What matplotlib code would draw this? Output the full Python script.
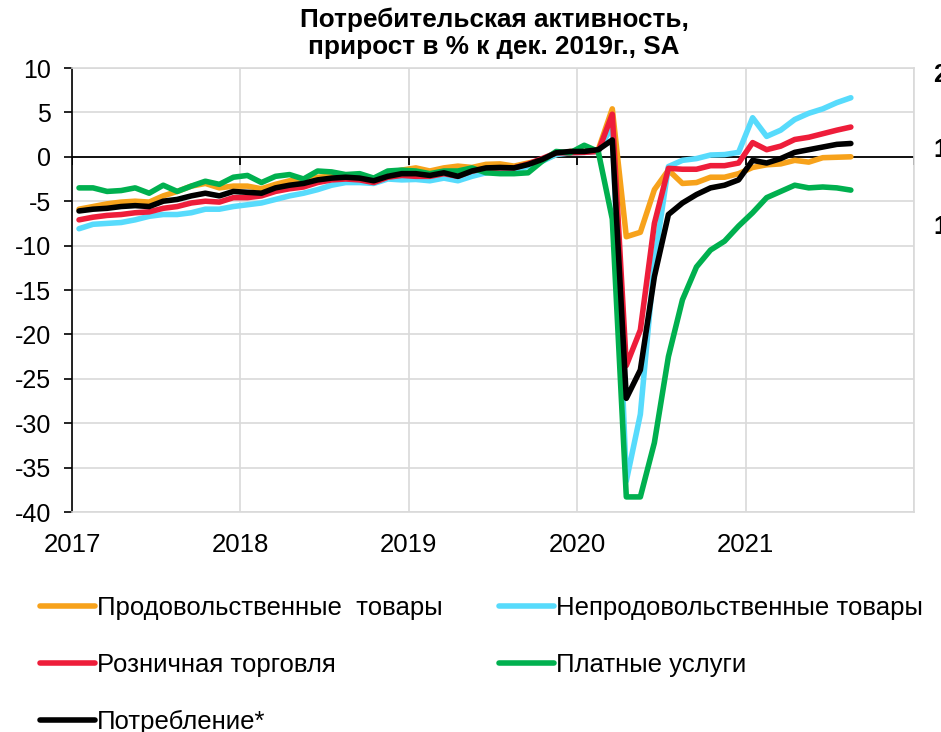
import numpy as np
import matplotlib
matplotlib.use("Agg")
import matplotlib.pyplot as plt

plt.rcParams['font.family'] = ['Liberation Sans', 'DejaVu Sans']
plt.rcParams['axes.unicode_minus'] = False

# месячные данные, янв. 2017 - авг. 2021
food = [-5.9, -5.6, -5.3, -5.1, -5.0, -5.1, -4.4, -3.9, -3.3, -3.0, -3.5, -3.3,
        -3.3, -3.6, -3.1, -2.7, -2.6, -2.3, -2.2, -2.2, -2.3, -2.6, -1.8, -1.5,
        -1.25, -1.6, -1.25, -1.05, -1.2, -0.85, -0.8, -1.05, -0.7, -0.4, 0.25, 0.6,
        0.6, 0.8, 5.4, -9.0, -8.5, -3.7, -1.5, -3.0, -2.9, -2.3, -2.3, -1.9,
        -1.2, -0.9, -0.8, -0.4, -0.6, -0.1, -0.05, 0.0]
nonfood = [-8.1, -7.6, -7.5, -7.4, -7.1, -6.7, -6.5, -6.5, -6.3, -5.9, -5.9, -5.6,
           -5.4, -5.2, -4.8, -4.4, -4.1, -3.7, -3.2, -2.9, -2.9, -3.0, -2.5, -2.6,
           -2.55, -2.7, -2.4, -2.7, -2.2, -1.8, -1.6, -1.7, -1.05, -0.5, 0.25, 0.45,
           0.5, 0.6, 3.5, -36.5, -29.0, -11.8, -1.1, -0.4, -0.2, 0.2, 0.25, 0.5,
           4.4, 2.3, 3.0, 4.2, 4.9, 5.4, 6.1, 6.65]
retail = [-7.1, -6.8, -6.6, -6.5, -6.3, -6.2, -5.8, -5.6, -5.2, -5.0, -5.1, -4.6,
          -4.6, -4.4, -3.9, -3.6, -3.4, -2.9, -2.6, -2.5, -2.6, -2.9, -2.3, -2.1,
          -2.2, -2.2, -1.9, -2.2, -1.6, -1.35, -1.25, -1.25, -0.8, -0.2, 0.45, 0.45,
          0.5, 0.6, 4.8, -23.5, -19.5, -7.5, -1.3, -1.4, -1.4, -1.0, -1.0, -0.7,
          1.6, 0.8, 1.2, 1.95, 2.2, 2.6, 3.0, 3.35]
services = [-3.5, -3.5, -3.9, -3.8, -3.5, -4.1, -3.2, -3.9, -3.3, -2.75, -3.1, -2.3,
            -2.1, -2.9, -2.2, -2.0, -2.5, -1.6, -1.7, -2.0, -1.9, -2.4, -1.6, -1.5,
            -1.6, -1.9, -1.6, -1.6, -1.25, -1.8, -1.9, -1.9, -1.8, -0.5, 0.6, 0.45,
            1.3, 0.6, -7.0, -38.3, -38.3, -32.2, -22.5, -16.1, -12.4, -10.5, -9.5, -7.8,
            -6.3, -4.6, -3.9, -3.2, -3.5, -3.4, -3.5, -3.75]
consumption = [-6.1, -5.9, -5.8, -5.6, -5.5, -5.6, -5.0, -4.8, -4.4, -4.1, -4.4, -3.9,
               -4.0, -4.1, -3.5, -3.2, -3.0, -2.6, -2.4, -2.3, -2.4, -2.7, -2.2, -1.9,
               -1.9, -2.1, -1.8, -2.2, -1.6, -1.25, -1.2, -1.25, -0.87, -0.3, 0.45, 0.6,
               0.6, 0.8, 1.9, -27.2, -24.0, -13.5, -6.5, -5.2, -4.25, -3.5, -3.2, -2.6,
               -0.4, -0.7, -0.2, 0.5, 0.8, 1.1, 1.4, 1.5]

labels = ["Продовольственные  товары", "Непродовольственные товары",
          "Розничная торговля", "Платные услуги", "Потребление*"]
colors = ["#F7A21B", "#57DBFC", "#EE1D3A", "#00B04F", "#000000"]
years = [2017, 2018, 2019, 2020, 2021, 2022]
year_labels = ["2017", "2018", "2019", "2020", "2021", ""]

# точки в середине месяца
x = 2017 + (np.arange(len(food)) + 0.5) / 12

fig = plt.figure(figsize=(9.41, 7.32), dpi=100)
ax = fig.add_axes([72 / 941, 1 - 512 / 732, (914 - 72) / 941, (512 - 68) / 732])

lines = []
for s, c, lab in zip([food, nonfood, retail, services, consumption], colors, labels):
    ln, = ax.plot(x, s, color=c, lw=4.0, solid_joinstyle='round',
                  solid_capstyle='round', label=lab, zorder=3)
    lines.append(ln)

ax.set_xlim(2017, 2022)
ax.set_ylim(-40, 10)
ax.set_yticks(np.arange(-40, 11, 5))
ax.set_xticks(years)
ax.set_xticklabels(year_labels)
ax.grid(True, color="#d9d9d9", lw=1.2, zorder=0)
ax.set_axisbelow(True)

for side in ['top', 'right', 'bottom']:
    ax.spines[side].set_color("#d9d9d9")
    ax.spines[side].set_linewidth(1.2)
ax.spines['left'].set_color('black')
ax.spines['left'].set_linewidth(1.2)

ax.tick_params(axis='y', direction='out', length=6, width=1.2, pad=9, labelsize=18)
ax.tick_params(axis='x', length=0, pad=15, labelsize=18.5)

# ось на нуле с засечками
ax.axhline(0, color='black', lw=1.3, zorder=2)
ax.vlines(years, -0.9, 0, color='black', lw=1.3, zorder=2)

fig.text(0.525, 0.99, "Потребительская активность,\nприрост в % к дек. 2019г., SA",
         ha='center', va='top', fontsize=18.8, fontweight='bold', linespacing=1.15)

# обрезанные подписи соседнего графика справа
for yy, t in [(75, "2"), (150, "1"), (227, "1")]:
    fig.text(933 / 941, 1 - yy / 732, t, ha='left', va='center',
             fontsize=18, fontweight='bold')

order = [0, 2, 4, 1, 3]
leg = fig.legend([lines[i] for i in order], [labels[i] for i in order],
                 ncol=2, loc='upper left', bbox_to_anchor=(40 / 941, 1 - 596 / 732),
                 frameon=False, fontsize=18.5, handlelength=2.14, handletextpad=0.08,
                 labelspacing=1.28, columnspacing=2.2, borderaxespad=0, borderpad=0)

fig.savefig("out.png", dpi=100)
